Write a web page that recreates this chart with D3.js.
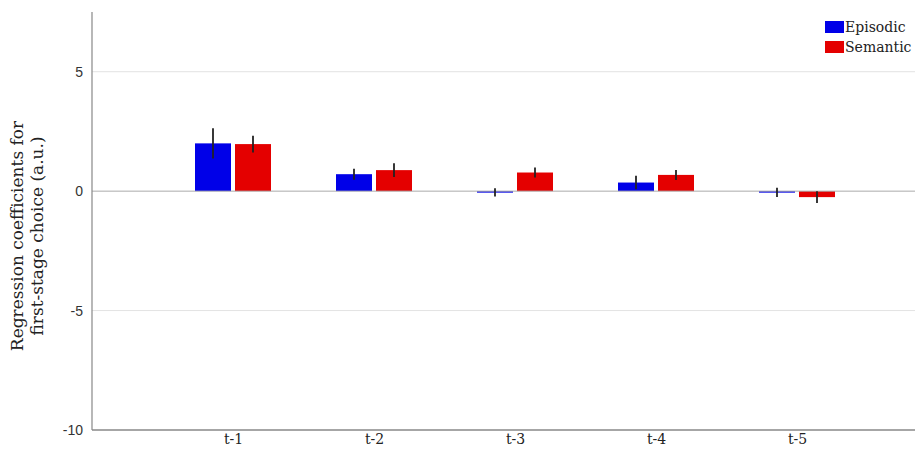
<!DOCTYPE html>
<html>
<head>
<meta charset="utf-8">
<script src="https://cdn.jsdelivr.net/npm/d3@7/dist/d3.min.js"></script>
<style>
  html, body { margin: 0; padding: 0; background: #fff; }
  svg { display: block; }
</style>
</head>
<body>
<svg id="chart" width="915" height="450"></svg>
<script>
// Lagged regression coefficients for first-stage choice
const categories = ["t-1", "t-2", "t-3", "t-4", "t-5"];
const seriesNames = ["Episodic", "Semantic"];
const episodicValues = [2.0, 0.71, -0.05, 0.36, -0.05];
const episodicErrors = [0.63, 0.23, 0.17, 0.28, 0.19];
const semanticValues = [1.97, 0.88, 0.78, 0.68, -0.25];
const semanticErrors = [0.35, 0.29, 0.21, 0.21, 0.25];
const yTicks = [-10, -5, 0, 5];
const colors = { Episodic: "#0000e8", Semantic: "#e40000" };

(function draw() {
  const svg = d3.select("#chart");
  const W = 915;
  const plotLeft = 92, plotTop = 12, plotBottom = 430;

  const y = d3.scaleLinear().domain([-10, 7.5]).range([plotBottom, plotTop]);
  const x = d3.scalePoint().domain(categories).range([plotLeft, plotLeft + 846]).padding(1);
  const barW = 36, barGap = 4;

  const serif = "'DejaVu Serif', 'Liberation Serif', serif";

  // horizontal gridlines
  svg.append("g").selectAll("line").data(yTicks.filter(t => t !== -10 && t !== 0)).join("line")
    .attr("x1", plotLeft).attr("x2", W)
    .attr("y1", d => y(d)).attr("y2", d => y(d))
    .attr("stroke", "#e3e3e3").attr("stroke-width", 1);

  // y tick labels (plain hyphen for negatives)
  const yAxis = d3.axisLeft(y).tickValues(yTicks).tickSize(0).tickPadding(9).tickFormat(d => String(d));
  const yg = svg.append("g").attr("transform", `translate(${plotLeft},0)`).call(yAxis);
  yg.select(".domain").remove();
  yg.selectAll("text").attr("font-family", "'Liberation Sans', Arial, sans-serif")
    .attr("font-size", 14).attr("fill", "#333");

  // bars
  const rows = [];
  categories.forEach((c, i) => {
    rows.push({ cat: c, series: "Episodic", value: episodicValues[i], err: episodicErrors[i], off: -(barW / 2 + barGap / 2) });
    rows.push({ cat: c, series: "Semantic", value: semanticValues[i], err: semanticErrors[i], off: (barW / 2 + barGap / 2) });
  });

  svg.append("g").selectAll("rect").data(rows).join("rect")
    .attr("x", d => x(d.cat) + d.off - barW / 2)
    .attr("width", barW)
    .attr("y", d => Math.min(y(d.value), y(0)))
    .attr("height", d => Math.max(Math.abs(y(d.value) - y(0)), 1.5))
    .attr("fill", d => colors[d.series]);

  // zero line
  svg.append("line").attr("x1", plotLeft).attr("x2", W).attr("y1", y(0)).attr("y2", y(0))
    .attr("stroke", "#aaa").attr("stroke-width", 1);

  // error bars
  svg.append("g").selectAll("line").data(rows).join("line")
    .attr("x1", d => x(d.cat) + d.off).attr("x2", d => x(d.cat) + d.off)
    .attr("y1", d => y(d.value + d.err)).attr("y2", d => y(d.value - d.err))
    .attr("stroke", "#222").attr("stroke-width", 1.8);

  // axis frame
  svg.append("line").attr("x1", plotLeft).attr("x2", plotLeft).attr("y1", plotTop).attr("y2", plotBottom)
    .attr("stroke", "#888").attr("stroke-width", 1.2);
  svg.append("line").attr("x1", plotLeft).attr("x2", W).attr("y1", plotBottom).attr("y2", plotBottom)
    .attr("stroke", "#888").attr("stroke-width", 1.6);

  // x tick labels
  const xAxis = d3.axisBottom(x).tickSize(0).tickPadding(4);
  const xg = svg.append("g").attr("transform", `translate(0,${plotBottom})`).call(xAxis);
  xg.select(".domain").remove();
  xg.selectAll("text").attr("font-family", serif).attr("font-size", 14).attr("fill", "#222");

  // y axis title
  const yt = svg.append("text")
    .attr("transform", `translate(18,236) rotate(-90)`)
    .attr("text-anchor", "middle")
    .attr("font-family", serif).attr("font-size", 17).attr("fill", "#222");
  yt.append("tspan").attr("x", 0).attr("dy", "0.3em").text("Regression coefficients for");
  yt.append("tspan").attr("x", 0).attr("dy", "1.15em").text("first-stage choice (a.u.)");

  // legend
  const lg = svg.append("g").attr("transform", "translate(825,21)");
  seriesNames.forEach((s, i) => {
    const g = lg.append("g").attr("transform", `translate(0,${i * 20})`);
    g.append("rect").attr("width", 19).attr("height", 12).attr("fill", colors[s]);
    g.append("text").attr("x", 20).attr("y", 6).attr("dy", "0.35em")
      .attr("font-family", serif).attr("font-size", 14).attr("fill", "#222").text(s);
  });
})();
</script>
</body>
</html>
